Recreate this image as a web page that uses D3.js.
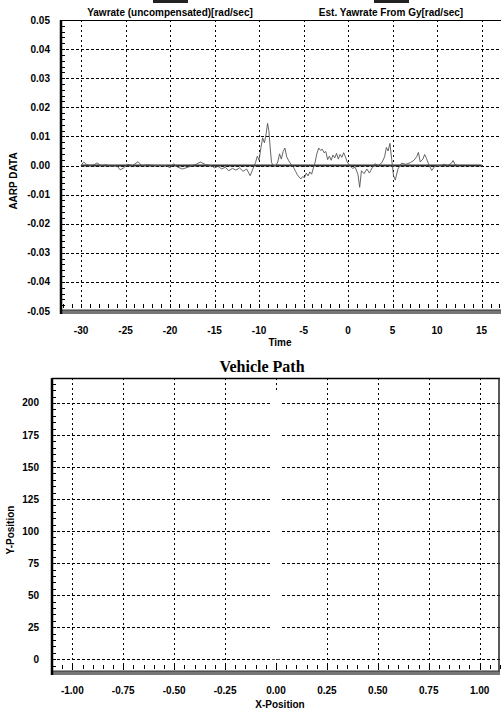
<!DOCTYPE html>
<html>
<head>
<meta charset="utf-8">
<script src="https://cdn.jsdelivr.net/npm/d3@7"></script>
<style>
body { margin: 0; background: #fff; }
svg { display: block; }
</style>
</head>
<body>
<script>

// ==== Top chart data (AARP) ====
var yawTime = [
    -30, -29.7, -29.4, -29, -28.5, -28.2, -27.8, -27.2, -26.6, -26,
    -25.6, -25.2, -24.8, -24.2, -23.6, -23.2, -22.5, -21.8, -21, -20.4,
    -20, -19.6, -19.2, -18.6, -18, -17.5, -17, -16.6, -16, -15.4,
    -15, -14.6, -14.2, -13.8, -13.4, -13, -12.6, -12.2, -11.8, -11.4,
    -11, -10.7, -10.4, -10.2, -10, -9.8, -9.6, -9.4, -9.2, -9.05,
    -8.9, -8.75, -8.6, -8.4, -8.1, -7.9, -7.7, -7.5, -7.3, -7.1,
    -6.9, -6.7, -6.5, -6.3, -6.1, -5.9, -5.7, -5.5, -5.3, -5.1,
    -4.9, -4.7, -4.5, -4.3, -4.1, -3.9, -3.7, -3.5, -3.3, -3.1,
    -2.9, -2.7, -2.5, -2.3, -2.1, -1.9, -1.7, -1.5, -1.3, -1.1,
    -0.9, -0.7, -0.5, -0.3, -0.1, 0.2, 0.5, 0.8, 1.1, 1.3,
    1.5, 1.8, 2.1, 2.4, 2.7, 3.0, 3.4, 3.8, 4.1, 4.3,
    4.5, 4.7, 4.9, 5.1, 5.3, 5.6, 6.0, 6.5, 7.0, 7.4,
    7.7, 7.9, 8.1, 8.4, 8.6, 8.8, 9.1, 9.4, 9.7, 10.0,
    10.4, 10.8, 11.2, 11.6, 11.8, 12.0, 12.4
];
var yawRate = [
    0, 0.0012, 0.0004, 0, 0.0003, 0.0009, 0, 0.0002, -0.0003, 0,
    -0.0015, -0.0008, 0.0004, 0, 0.0013, 0, 0.0002, 0, 0, 0,
    -0.0008, 0.0006, -0.0005, -0.0012, -0.0006, 0, 0.0005, 0.0012, 0.0003, 0,
    -0.0008, -0.0003, -0.0012, -0.0006, -0.0018, -0.0010, -0.0016, -0.0008, -0.0020, -0.0012,
    -0.0035, -0.0012, 0.0010, 0.0032, 0.0018, 0.0060, 0.0095, 0.0078, 0.0110, 0.0145,
    0.0120, 0.0060, 0.0010, 0, 0, 0.0012, 0.0040, 0.0022, 0.0048, 0.0060,
    0.0030, 0.0018, 0.0008, 0, -0.0008, -0.0020, -0.0032, -0.0040, -0.0046, -0.0038,
    -0.0042, -0.0026, -0.0036, -0.0022, -0.0030, -0.0008, 0.0012, 0.0042, 0.0060, 0.0052,
    0.0056, 0.0044, 0.0048, 0.0020, 0.0032, 0.0018, 0.0036, 0.0026, 0.0042, 0.0022,
    0.0038, 0.0028, 0.0044, 0.0030, 0.0012, 0, -0.0010, -0.0006, -0.0030, -0.0075,
    -0.0018, -0.0028, -0.0012, -0.0026, -0.0008, 0.0006, 0, 0.0010, 0.0030, 0.0062,
    0.0050, 0.0076, 0.0020, -0.0035, -0.0050, -0.0012, 0.0008, 0.0004, 0.0010, 0.0018,
    0.0030, 0.0045, 0.0012, 0.0022, 0.0038, 0.0025, 0, -0.0017, -0.0004, 0,
    0, 0.0004, 0, 0.0008, 0.0017, 0.0003, 0
];
var estTime = [-30, 15];
var estRate = [0, 0];

var seriesNames = ["Yawrate (uncompensated)[rad/sec]", "Est. Yawrate From Gy[rad/sec]"];
var timeTicks = [-30, -25, -20, -15, -10, -5, 0, 5, 10, 15];
var aarpTicks = [0.05, 0.04, 0.03, 0.02, 0.01, 0, -0.01, -0.02, -0.03, -0.04, -0.05];

// ==== Bottom chart data (Vehicle Path) ====
var pathX = [0, 0];
var pathY = [0, 209];
var posXTicks = [-1, -0.75, -0.5, -0.25, 0, 0.25, 0.5, 0.75, 1];
var posYTicks = [0, 25, 50, 75, 100, 125, 150, 175, 200];


var font = '"Liberation Sans", Arial, sans-serif';

var svg = d3.select("body")
        .append("svg")
        .attr("width", 501)
        .attr("height", 710);

function hy(s) { return s.replace("\u2212", "-"); }


function draw_panel(p) {

    var g = svg.append("g");
    var x = p.x, y = p.y;
    var left = x.range()[0], right = x.range()[1],
        bottom = y.range()[0], top = y.range()[1];

    // --- dotted grid ---
    g.append("g").selectAll("line")
        .data(p.yTicks).enter().append("line")
        .attr("x1", left).attr("x2", right)
        .attr("y1", d => Math.round(y(d)) + 0.5).attr("y2", d => Math.round(y(d)) + 0.5)
        .attr("stroke", "#000").attr("stroke-width", 1)
        .attr("stroke-dasharray", "3,2");

    g.append("g").selectAll("line")
        .data(p.xTicks).enter().append("line")
        .attr("x1", d => Math.round(x(d)) + 0.5).attr("x2", d => Math.round(x(d)) + 0.5)
        .attr("y1", top).attr("y2", bottom)
        .attr("stroke", "#000").attr("stroke-width", 1)
        .attr("stroke-dasharray", "2,3");

    // --- minor ticks ---
    g.append("g").selectAll("line")
        .data(p.yMinor).enter().append("line")
        .attr("x1", left).attr("x2", left + 4)
        .attr("y1", d => Math.round(y(d)) + 0.5).attr("y2", d => Math.round(y(d)) + 0.5)
        .attr("stroke", "#000").attr("stroke-width", 1);

    g.append("g").selectAll("line")
        .data(p.xMinor).enter().append("line")
        .attr("x1", d => Math.round(x(d)) + 0.5).attr("x2", d => Math.round(x(d)) + 0.5)
        .attr("y1", bottom - 7).attr("y2", bottom - 3)
        .attr("stroke", "#000").attr("stroke-width", 1);

    // --- series ---
    p.draw(g);

    // --- frame ---
    g.append("line")
        .attr("x1", left).attr("x2", right)
        .attr("y1", top + 0.5).attr("y2", top + 0.5)
        .attr("stroke", "#000").attr("stroke-width", p.topW);

    if (p.rightBorder) {
        g.append("line")
            .attr("x1", right - 1).attr("x2", right - 1)
            .attr("y1", top).attr("y2", bottom)
            .attr("stroke", "#222").attr("stroke-width", 1.5);
    }

    g.append("rect")
        .attr("x", left).attr("y", bottom - 1)
        .attr("width", right - left).attr("height", 4)
        .attr("fill", "#777");
    g.append("line")
        .attr("x1", left).attr("x2", right)
        .attr("y1", bottom - 1).attr("y2", bottom - 1)
        .attr("stroke", "#333").attr("stroke-width", 1);

    g.append("line")
        .attr("x1", left).attr("x2", left)
        .attr("y1", top).attr("y2", bottom + 3)
        .attr("stroke", "#000").attr("stroke-width", 2.5);

    // --- tick labels ---
    g.append("g").selectAll("text")
        .data(p.yTicks).enter().append("text")
        .text(p.yFmt)
        .attr("x", left - p.yPad)
        .attr("y", d => y(d) + 3.5)
        .attr("text-anchor", "end")
        .attr("font-family", font)
        .attr("font-size", "10px")
        .attr("font-weight", 700)
        .attr("fill", "#000");

    g.append("g").selectAll("text")
        .data(p.xTicks).enter().append("text")
        .text(p.xFmt)
        .attr("x", d => x(d))
        .attr("y", p.xLabY)
        .attr("text-anchor", "middle")
        .attr("font-family", font)
        .attr("font-size", "10px")
        .attr("font-weight", 700)
        .attr("fill", "#000");

    // --- axis titles ---
    g.append("text")
        .text(p.xTitle)
        .attr("x", p.xTitleX)
        .attr("y", p.xTitleY)
        .attr("text-anchor", "middle")
        .attr("font-family", font)
        .attr("font-size", "10px")
        .attr("font-weight", 700)
        .attr("fill", "#000");

    g.append("text")
        .text(p.yTitle)
        .attr("transform", "translate(" + p.yTitleX + "," + p.yTitleY + ") rotate(-90)")
        .attr("text-anchor", "middle")
        .attr("font-family", font)
        .attr("font-size", "10px")
        .attr("font-weight", 700)
        .attr("fill", "#000");
}


// ==== AARP DATA chart ====
var xTime = d3.scaleLinear().domain([-32.25, 17.4]).range([61, 503]);
var yAarp = d3.scaleLinear().domain([-0.05, 0.05]).range([311, 20]);

draw_panel({
    x: xTime, y: yAarp,
    xTicks: timeTicks, yTicks: aarpTicks,
    xMinor: d3.range(-32, 18, 1), yMinor: d3.range(-0.05, 0.0501, 0.002),
    xFmt: d => hy(d3.format("d")(d)), yFmt: d => hy(d3.format(".2f")(d)),
    yPad: 11, xLabY: 334, topW: 1, rightBorder: false,
    xTitle: "Time", xTitleX: 280, xTitleY: 346,
    yTitle: "AARP DATA", yTitleX: 17, yTitleY: 181,
    draw: function(g) {
        var est = d3.line().x(d => xTime(d[0])).y(d => yAarp(d[1]));
        g.append("path")
            .datum(d3.zip(estTime, estRate))
            .attr("d", est)
            .attr("fill", "none")
            .attr("stroke", "#333")
            .attr("stroke-width", 2);
        g.append("path")
            .datum(d3.zip(yawTime, yawRate))
            .attr("d", est)
            .attr("fill", "none")
            .attr("stroke", "#555")
            .attr("stroke-width", 0.9);
    }
});

// --- legend ---
var legX = [170, 391];
svg.append("g").selectAll("rect")
    .data(seriesNames).enter().append("rect")
    .attr("x", (d, i) => legX[i] - 17)
    .attr("y", 0)
    .attr("width", 35)
    .attr("height", 3)
    .attr("fill", "#222");

svg.append("g").selectAll("text")
    .data(seriesNames).enter().append("text")
    .text(d => d)
    .attr("x", (d, i) => legX[i])
    .attr("y", 16)
    .attr("text-anchor", "middle")
    .attr("font-family", font)
    .attr("font-size", "10px")
    .attr("font-weight", 700)
    .attr("fill", "#000");


// ==== Vehicle Path chart ====
var xPos = d3.scaleLinear().domain([-1.1, 1.1]).range([52, 500]);
var yPos = d3.scaleLinear().domain([-10, 219.5]).range([672, 378]);

svg.append("text")
    .text("Vehicle Path")
    .attr("x", 262)
    .attr("y", 372)
    .attr("text-anchor", "middle")
    .attr("font-family", '"Liberation Serif", "Times New Roman", serif')
    .attr("font-size", "16px")
    .attr("font-weight", 700)
    .attr("fill", "#000");

draw_panel({
    x: xPos, y: yPos,
    xTicks: posXTicks, yTicks: posYTicks,
    xMinor: d3.range(-1.1, 1.1001, 0.05), yMinor: d3.range(-10, 220, 5),
    xFmt: d => hy(d3.format(".2f")(d)), yFmt: d => hy(d3.format("d")(d)),
    yPad: 13, xLabY: 694, topW: 1.5, rightBorder: true,
    xTitle: "X-Position", xTitleX: 280, xTitleY: 708,
    yTitle: "Y-Position", yTitleX: 14, yTitleY: 530,
    draw: function(g) {
        g.append("path")
            .datum(d3.zip(pathX, pathY))
            .attr("d", d3.line().x(d => xPos(d[0])).y(d => yPos(d[1])))
            .attr("fill", "none")
            .attr("stroke", "#fff")
            .attr("stroke-width", 8);
    }
});

</script>
</body>
</html>
